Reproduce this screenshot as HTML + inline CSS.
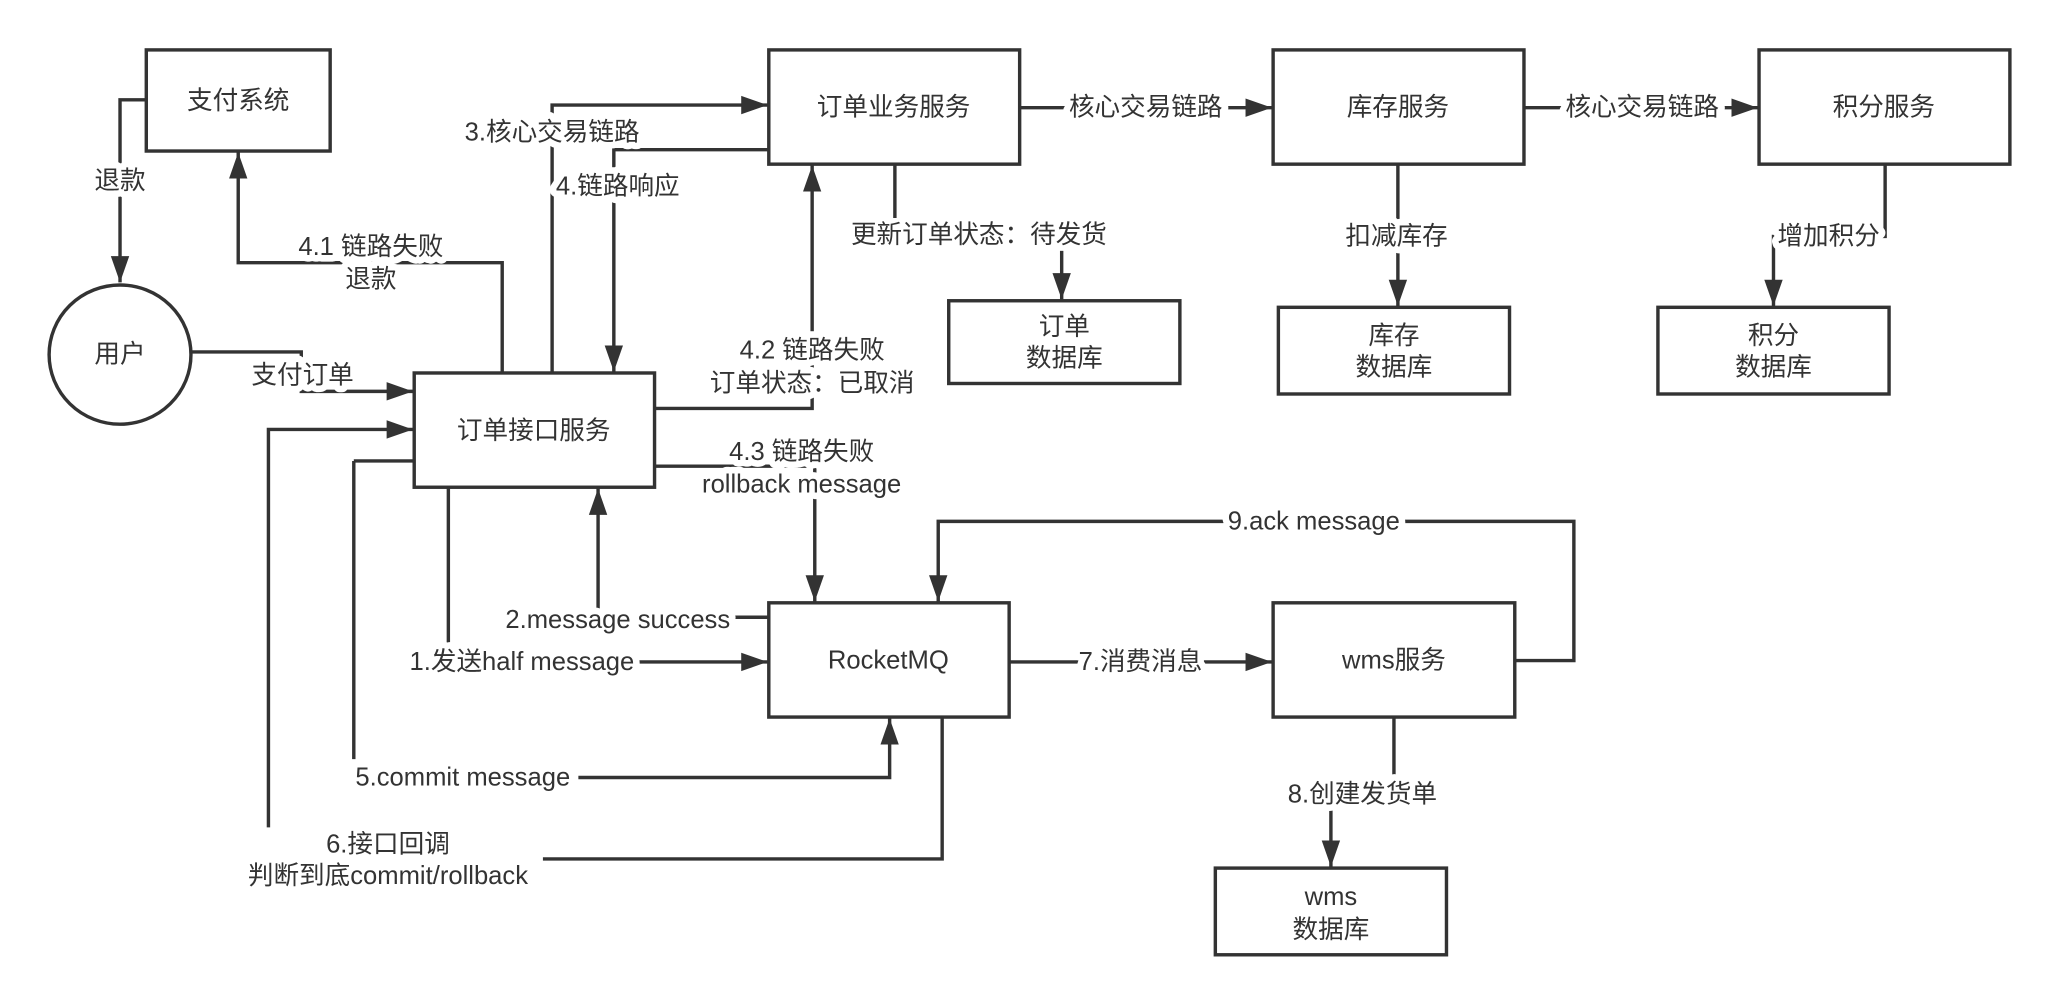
<!DOCTYPE html>
<html><head><meta charset="utf-8"><style>
html,body{margin:0;padding:0;background:#fff;}
svg{display:block;}
text{font-family:"Liberation Sans","Noto Sans CJK SC",sans-serif;font-size:19.5px;fill:#333;text-anchor:middle;dominant-baseline:central;}
.l{stroke:#fff;stroke-width:10px;paint-order:stroke;stroke-linejoin:round;}
</style></head><body>
<svg width="2059" height="1006" viewBox="0 0 1567 766" xmlns="http://www.w3.org/2000/svg">
<defs>
<marker id="a" markerUnits="userSpaceOnUse" markerWidth="22" markerHeight="16" refX="20" refY="8" orient="auto">
<path d="M0,1 L20,8 L0,15 Z" fill="#333"/>
</marker>
</defs>
<g fill="none" stroke="#333" stroke-width="2.6">
<rect x="111" y="38" width="140" height="77"/>
<rect x="585" y="38" width="191" height="87"/>
<rect x="969" y="38" width="191" height="87"/>
<rect x="1339" y="38" width="191" height="87"/>
<rect x="722" y="229" width="176" height="63"/>
<rect x="973" y="234" width="176" height="66"/>
<rect x="1262" y="234" width="176" height="66"/>
<ellipse cx="91" cy="270" rx="54" ry="53"/>
<rect x="315" y="284" width="183" height="87"/>
<rect x="585" y="459" width="183" height="87"/>
<rect x="969" y="459" width="184" height="87"/>
<rect x="925" y="661" width="176" height="66"/>
<polyline points="717,546 717,654 413,654"/>
<polyline points="269,351 269,578"/>
<polyline points="315,351 269,351"/>
<polyline points="681,125 681,166"/>
</g>
<g fill="none" stroke="#333" stroke-width="2.6" marker-end="url(#a)">
<polyline points="111,76 91,76 91,215"/>
<polyline points="382,284 382,200 181,200 181,116"/>
<polyline points="145,268 229,268 229,298 314,298"/>
<polyline points="420,284 420,80 584,80"/>
<polyline points="585,114 467,114 467,283"/>
<polyline points="498,311 618,311 618,126"/>
<polyline points="808,191 808,228"/>
<polyline points="776,82 968,82"/>
<polyline points="1160,82 1338,82"/>
<polyline points="1064,125 1064,233"/>
<polyline points="1435,125 1435,180 1350,180 1350,233"/>
<polyline points="498,355 620,355 620,458"/>
<polyline points="585,470 455,470 455,372"/>
<polyline points="341,371 341,504 584,504"/>
<polyline points="440,592 677,592 677,547"/>
<polyline points="204,630 204,327 314,327"/>
<polyline points="768,504 968,504"/>
<polyline points="1153,503 1198,503 1198,397 714,397 714,458"/>
<polyline points="1061,546 1061,605 1013,605 1013,660"/>
</g>
<g>
<text x="181" y="77">支付系统</text>
<text x="680" y="82">订单业务服务</text>
<text x="1064" y="82">库存服务</text>
<text x="1434" y="82">积分服务</text>
<text x="810" y="249">订单</text><text x="810" y="273">数据库</text>
<text x="1061" y="256">库存</text><text x="1061" y="280">数据库</text>
<text x="1350" y="256">积分</text><text x="1350" y="280">数据库</text>
<text x="91" y="270">用户</text>
<text x="406" y="328">订单接口服务</text>
<text x="676" y="503">RocketMQ</text>
<text x="1061" y="503">wms服务</text>
<text x="1013" y="683">wms</text><text x="1013" y="708">数据库</text>
</g>
<g>
<text class="l" x="91" y="138">退款</text>
<text class="l" x="282" y="188">4.1 链路失败</text>
<text class="l" x="282" y="213">退款</text>
<text class="l" x="230" y="286">支付订单</text>
<text class="l" x="420" y="101">3.核心交易链路</text>
<text class="l" x="470" y="142">4.链路响应</text>
<text class="l" x="618" y="267">4.2 链路失败</text>
<text class="l" x="618" y="292">订单状态：已取消</text>
<text x="745" y="179">更新订单状态：待发货</text>
<text class="l" x="872" y="82">核心交易链路</text>
<text class="l" x="1250" y="82">核心交易链路</text>
<text class="l" x="1063" y="180">扣减库存</text>
<text class="l" x="1392" y="180">增加积分</text>
<text class="l" x="610" y="344">4.3 链路失败</text>
<text class="l" x="610" y="369">rollback message</text>
<text class="l" x="470" y="472">2.message success</text>
<text class="l" x="397" y="504">1.发送half message</text>
<text class="l" x="352" y="592">5.commit message</text>
<text class="l" x="295" y="643">6.接口回调</text>
<text class="l" x="295" y="667">判断到底commit/rollback</text>
<text class="l" x="868" y="504">7.消费消息</text>
<text class="l" x="1000" y="397">9.ack message</text>
<text class="l" x="1037" y="605">8.创建发货单</text>
</g>
</svg>
</body></html>
